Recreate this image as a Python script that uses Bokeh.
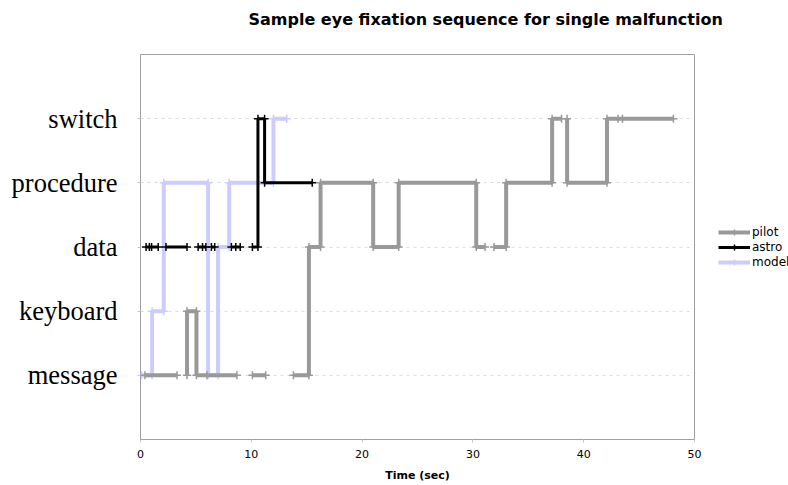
import math
from bokeh.plotting import figure
from bokeh.models import FixedTicker, Legend, LegendItem, Range1d, Title
from bokeh.embed import file_html
from bokeh.resources import INLINE

nan = float("nan")

# categories (bottom to top)
levels = ["message", "keyboard", "data", "procedure", "switch"]
level_values = [1, 2, 3, 4, 5]
x_ticks = [0, 10, 20, 30, 40, 50]

# pilot fixation sequence (time in sec, area); None = break in the line
pilot_t = [0.4, 3.3, nan, 4.2, 4.2, 5.05, 5.05, 6.0, 8.7, nan, 10.1, 11.3, nan,
           13.8, 15.2, 15.2, 16.25, 16.25, 21.0, 21.0, 23.3, 23.3, 30.3, 30.3, 31.1, nan,
           31.9, 33.0, 33.0, 37.15, 37.15, 38.0, nan, 38.5, 38.5, 42.1, 42.1, 43.1, 43.5, 48.1]
pilot_area = ["message", "message", None, "message", "keyboard", "keyboard", "message", "message", "message", None,
              "message", "message", None,
              "message", "message", "data", "data", "procedure", "procedure", "data", "data", "procedure", "procedure",
              "data", "data", None,
              "data", "data", "procedure", "procedure", "switch", "switch", None,
              "switch", "procedure", "procedure", "switch", "switch", "switch", "switch"]

# astro fixation sequence
astro_t = [0.5, 0.8, 1.0, 1.6, nan, 2.3, 4.2, nan, 5.2, 5.6, 5.9, nan, 6.4, 6.7, nan,
           8.2, 8.6, 9.0, nan, 10.1, 10.6, 10.6, 11.2, 11.2, 15.5]
astro_area = ["data", "data", "data", "data", None, "data", "data", None, "data", "data", "data", None,
              "data", "data", None, "data", "data", "data", None,
              "data", "data", "switch", "switch", "procedure", "procedure"]

# model fixation sequence
model_t = [0.1, 1.05, 1.05, 2.1, 2.1, 6.1, 6.1, 7.0, 7.0, 8.0, 8.0, 12.0, 12.0, 13.2]
model_area = ["message", "message", "keyboard", "keyboard", "procedure", "procedure", "message", "message",
              "data", "data", "procedure", "procedure", "switch", "switch"]

lvl = dict(zip(levels, level_values))


def to_y(areas):
    return [lvl[a] if a is not None else nan for a in areas]


p = figure(frame_width=554, frame_height=385, output_backend="svg", toolbar_location=None,
           x_range=Range1d(0, 50), y_range=Range1d(0, 6),
           min_border_left=140, min_border_right=94, min_border_top=54, min_border_bottom=46)
p.background_fill_color = "white"
p.border_fill_color = "white"
p.outline_line_color = "#a0a0a0"
p.outline_line_width = 1

# spacer between frame and title, then the title itself (stacked outward)
p.add_layout(Title(text=" ", text_font_size="1px", standoff=12), "above")
p.add_layout(Title(text="Sample eye fixation sequence for single malfunction",
                   text_font="DejaVu Sans", text_font_size="16px", text_font_style="bold",
                   text_color="black", align="left", offset=108, vertical_align="top",
                   standoff=18), "above")

# axes
p.xaxis.ticker = FixedTicker(ticks=x_ticks)
p.xaxis.minor_tick_line_color = None
p.xaxis.major_tick_in = 0
p.xaxis.major_tick_out = 3
p.xaxis.major_tick_line_color = "#c8c8c8"
p.xaxis.axis_line_color = "#a0a0a0"
p.xaxis.major_label_text_font = "DejaVu Sans"
p.xaxis.major_label_text_font_size = "11px"
p.xaxis.major_label_text_color = "black"
p.xaxis.major_label_standoff = 7
p.xaxis.axis_label = "Time (sec)"
p.xaxis.axis_label_text_font = "DejaVu Sans"
p.xaxis.axis_label_text_font_size = "11px"
p.xaxis.axis_label_text_font_style = "bold"
p.xaxis.axis_label_text_color = "black"
p.xaxis.axis_label_standoff = 8

p.yaxis.ticker = FixedTicker(ticks=level_values)
p.yaxis.major_label_overrides = {v: n for v, n in zip(level_values, levels)}
p.yaxis.minor_tick_line_color = None
p.yaxis.major_tick_in = 0
p.yaxis.major_tick_out = 3
p.yaxis.major_tick_line_color = "#c8c8c8"
p.yaxis.axis_line_color = "#a0a0a0"
p.yaxis.major_label_text_font = "Liberation Serif"
p.yaxis.major_label_text_font_size = "26.5px"
p.yaxis.major_label_text_color = "black"
p.yaxis.major_label_standoff = 20

p.xgrid.grid_line_color = None
p.ygrid.ticker = FixedTicker(ticks=level_values)
p.ygrid.grid_line_color = "#dcdcdc"
p.ygrid.grid_line_dash = "3 4"
p.ygrid.grid_line_width = 1

series = [
    ("model", model_t, model_area, "#ccccff", 4),
    ("pilot", pilot_t, pilot_area, "#999999", 4),
    ("astro", astro_t, astro_area, "#000000", 3),
]
rend = {}
for name, t, a, color, w in series:
    y = to_y(a)
    ln = p.line(t, y, line_color=color, line_width=w)
    mk = p.scatter([ti for ti in t if not math.isnan(ti)], [yi for yi in y if not math.isnan(yi)],
                   marker="cross", size=8, line_color=color, line_width=1.5)
    rend[name] = [ln, mk]

legend = Legend(items=[LegendItem(label=n, renderers=rend[n]) for n in ["pilot", "astro", "model"]],
                location="center_left", padding=0, margin=24, spacing=0,
                glyph_width=32, glyph_height=15, label_height=15, label_standoff=2,
                label_text_font="DejaVu Sans", label_text_font_size="12px", label_text_color="black",
                border_line_alpha=0, background_fill_alpha=0)
p.add_layout(legend, "right")

open("out.html", "w").write(file_html(p, INLINE))
